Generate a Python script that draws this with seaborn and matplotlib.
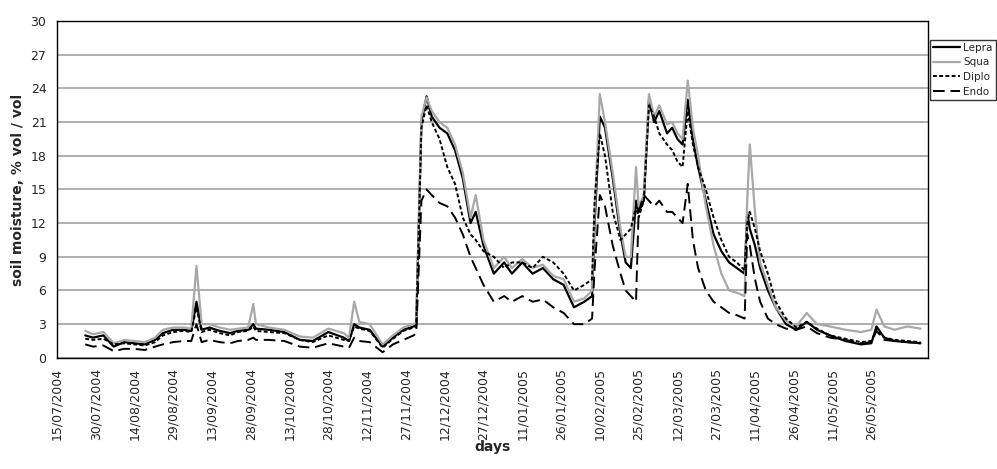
import matplotlib
matplotlib.use("Agg")
import matplotlib.pyplot as plt
import matplotlib.dates as mdates
import seaborn as sns
import pandas as pd

dates = [
    "2004-07-26", "2004-07-29", "2004-08-02", "2004-08-06", "2004-08-10", "2004-08-14", "2004-08-18",
    "2004-08-22", "2004-08-25", "2004-08-29", "2004-09-02", "2004-09-05", "2004-09-07", "2004-09-09",
    "2004-09-12", "2004-09-16", "2004-09-20", "2004-09-23", "2004-09-27", "2004-09-29", "2004-09-30",
    "2004-10-05", "2004-10-11", "2004-10-17", "2004-10-22", "2004-10-28", "2004-11-03", "2004-11-05",
    "2004-11-07", "2004-11-09", "2004-11-13", "2004-11-18", "2004-11-22", "2004-11-26", "2004-11-30",
    "2004-12-01", "2004-12-03", "2004-12-05", "2004-12-07", "2004-12-10", "2004-12-13", "2004-12-16",
    "2004-12-19", "2004-12-22", "2004-12-24", "2004-12-27", "2004-12-31", "2005-01-04", "2005-01-07",
    "2005-01-11", "2005-01-15", "2005-01-19", "2005-01-23", "2005-01-27", "2005-01-31", "2005-02-04",
    "2005-02-07", "2005-02-08", "2005-02-10", "2005-02-12", "2005-02-15", "2005-02-18", "2005-02-20",
    "2005-02-22", "2005-02-24", "2005-02-25", "2005-02-27", "2005-03-01", "2005-03-03", "2005-03-05",
    "2005-03-08", "2005-03-10", "2005-03-12", "2005-03-14", "2005-03-16", "2005-03-18", "2005-03-20",
    "2005-03-23", "2005-03-26", "2005-03-29", "2005-04-01", "2005-04-04", "2005-04-07", "2005-04-08",
    "2005-04-09", "2005-04-11", "2005-04-13", "2005-04-16", "2005-04-19", "2005-04-23", "2005-04-27",
    "2005-05-01", "2005-05-05", "2005-05-10", "2005-05-16", "2005-05-22", "2005-05-26", "2005-05-28",
    "2005-05-31", "2005-06-04", "2005-06-09", "2005-06-14",
]

lepra = [
    2.0, 1.8, 2.0, 1.0, 1.4, 1.3, 1.2, 1.6, 2.2, 2.5, 2.5, 2.4, 5.0, 2.5,
    2.7, 2.4, 2.2, 2.4, 2.5, 3.0, 2.6, 2.5, 2.3, 1.6, 1.5, 2.3, 1.8, 1.5,
    3.0, 2.7, 2.5, 1.0, 1.8, 2.5, 2.8, 3.0, 21.0, 23.3, 21.5, 20.5, 20.0, 18.5,
    16.0, 12.0, 13.0, 10.0, 7.5, 8.5, 7.5, 8.5, 7.5, 8.0, 7.0, 6.5, 4.5, 5.0,
    5.5, 12.0, 21.5, 20.5, 16.0, 11.0, 8.5, 8.0, 14.0, 13.0, 14.0, 23.0, 21.0, 22.0,
    20.0, 20.5, 19.5, 19.0, 23.0, 19.5, 17.0, 14.0, 11.0, 9.5, 8.5, 8.0, 7.5, 13.0,
    11.5, 10.0, 8.0, 6.0, 4.5, 3.0, 2.5, 3.2, 2.5, 2.0, 1.5, 1.2, 1.3, 2.8,
    1.8, 1.5, 1.4, 1.3,
]
squa = [
    2.4, 2.1, 2.3, 1.3, 1.6, 1.5, 1.4, 1.8, 2.5, 2.7, 2.7, 2.6, 8.2, 3.0,
    3.0, 2.7, 2.5, 2.6, 2.7, 4.8, 3.0, 2.7, 2.5, 1.9, 1.8, 2.6, 2.2, 1.8,
    5.0, 3.2, 3.0, 1.2, 2.0, 2.7, 3.0, 3.1, 21.5, 23.2, 22.0, 21.0, 20.5, 19.0,
    16.5, 12.5, 14.5, 10.5, 8.0, 9.0, 8.0, 8.8, 8.0, 8.3, 7.3, 7.0, 5.0, 5.3,
    6.0, 13.0, 23.5, 21.0, 16.5, 11.5, 9.0, 9.0, 17.0, 13.5, 14.5, 23.5, 21.5, 22.5,
    20.8, 21.0, 20.0, 19.5, 24.7, 20.5, 18.0, 13.5, 10.0, 7.5, 6.0, 5.8, 5.5, 14.0,
    19.0, 13.0, 8.5, 6.5, 4.5, 3.3, 2.8, 4.0, 3.0, 2.8, 2.5, 2.3, 2.5, 4.3,
    2.8, 2.5, 2.8, 2.6,
]
diplo = [
    1.7, 1.6, 1.7, 1.2, 1.3, 1.2, 1.1, 1.4, 2.0, 2.3, 2.4, 2.3, 4.5, 2.3,
    2.5, 2.2, 2.0, 2.3, 2.4, 2.8, 2.4, 2.3, 2.2, 1.6, 1.4, 2.0, 1.6, 1.5,
    2.8, 2.6, 2.4, 0.9, 1.7, 2.4, 2.7, 2.8, 20.5, 22.5, 21.0, 19.5, 17.0, 15.5,
    12.5, 11.0, 10.5, 9.5, 9.0, 8.0, 8.5, 8.5, 8.0, 9.0, 8.5, 7.5, 6.0, 6.5,
    7.0, 14.0, 20.0, 18.0, 13.0, 10.5, 11.0, 11.5, 13.5, 12.5, 14.0, 22.5, 21.5, 20.0,
    19.0, 18.5, 17.5, 17.0, 22.0, 19.0, 17.0, 15.0, 12.5, 10.5, 9.0, 8.5, 7.8, 12.0,
    13.0, 11.5, 9.5, 7.5, 5.0, 3.5, 2.7, 3.2, 2.6, 2.0, 1.7, 1.4, 1.5, 2.5,
    1.8, 1.6, 1.5, 1.4,
]
endo = [
    1.2, 1.0, 1.1, 0.6, 0.8, 0.8, 0.7, 1.0, 1.2, 1.4, 1.5, 1.5, 3.0, 1.4,
    1.6, 1.4, 1.3, 1.5, 1.6, 1.8, 1.6, 1.6, 1.5, 1.0, 0.9, 1.3, 1.0, 0.9,
    1.8, 1.5, 1.4, 0.5, 1.2, 1.6, 2.0, 2.2, 14.0, 15.0, 14.5, 13.8, 13.5, 12.5,
    11.0, 9.0, 8.0, 6.5, 5.0, 5.5, 5.0, 5.5, 5.0, 5.2, 4.5, 4.0, 3.0, 3.0,
    3.5, 8.0, 14.5, 13.5, 10.0, 7.5, 6.0, 5.5, 5.0, 13.0, 14.5, 14.0, 13.5, 14.0,
    13.0, 13.0, 12.5, 12.0, 15.5, 10.5, 8.0, 6.0, 5.0, 4.5, 4.0, 3.8, 3.5, 11.0,
    10.0, 7.0, 5.0, 3.5, 3.0, 2.6, 2.5, 2.8, 2.2, 1.8, 1.6, 1.3, 1.4, 2.4,
    1.6, 1.5, 1.4, 1.3,
]

series_names = ["Lepra", "Squa", "Diplo", "Endo"]
series_styles = {
    "Lepra": dict(color="black", linestyle="-", linewidth=1.6),
    "Squa": dict(color="#a8a8a8", linestyle="-", linewidth=1.6),
    "Diplo": dict(color="black", linestyle=(0, (2, 1.2)), linewidth=1.4),
    "Endo": dict(color="black", linestyle=(0, (6, 3)), linewidth=1.4),
}

df = pd.DataFrame({"date": pd.to_datetime(dates), "Lepra": lepra, "Squa": squa,
                   "Diplo": diplo, "Endo": endo})

sns.set_style("white")
fig = plt.figure(figsize=(9.97, 4.69), dpi=100)
ax = fig.add_axes([0.057, 0.237, 0.874, 0.718])

for name in series_names:
    sns.lineplot(data=df, x="date", y=name, ax=ax, label=name, **series_styles[name])

ax.set_ylim(0, 30)
ax.set_yticks(range(0, 31, 3))
ax.set_xlim(pd.Timestamp("2004-07-15"), pd.Timestamp("2005-06-17"))
ticks = pd.date_range("2004-07-15", "2005-05-26", freq="15D")
ax.set_xticks(ticks)
ax.xaxis.set_major_formatter(mdates.DateFormatter("%d/%m/%Y"))
plt.setp(ax.get_xticklabels(), rotation=90, fontsize=9)
ax.tick_params(axis="y", labelsize=9)
ax.tick_params(axis="both", direction="out", length=4, color="black")
ax.grid(True, axis="y", color="#9a9a9a", linewidth=1.1)
for s in ax.spines.values():
    s.set_color("black")
    s.set_linewidth(1)

ax.set_xlabel("days", fontsize=10, fontweight="bold", labelpad=0)
ax.set_ylabel("soil moisture, % vol / vol", fontsize=10, fontweight="bold")

leg = ax.legend(loc="upper left", bbox_to_anchor=(1.002, 0.945), frameon=True,
                fancybox=False, edgecolor="black", fontsize=7.5, handlelength=2.6,
                handletextpad=0.3, borderpad=0.3, borderaxespad=0, labelspacing=0.45)
leg.get_frame().set_linewidth(1)

fig.savefig("out.png", dpi=100)
